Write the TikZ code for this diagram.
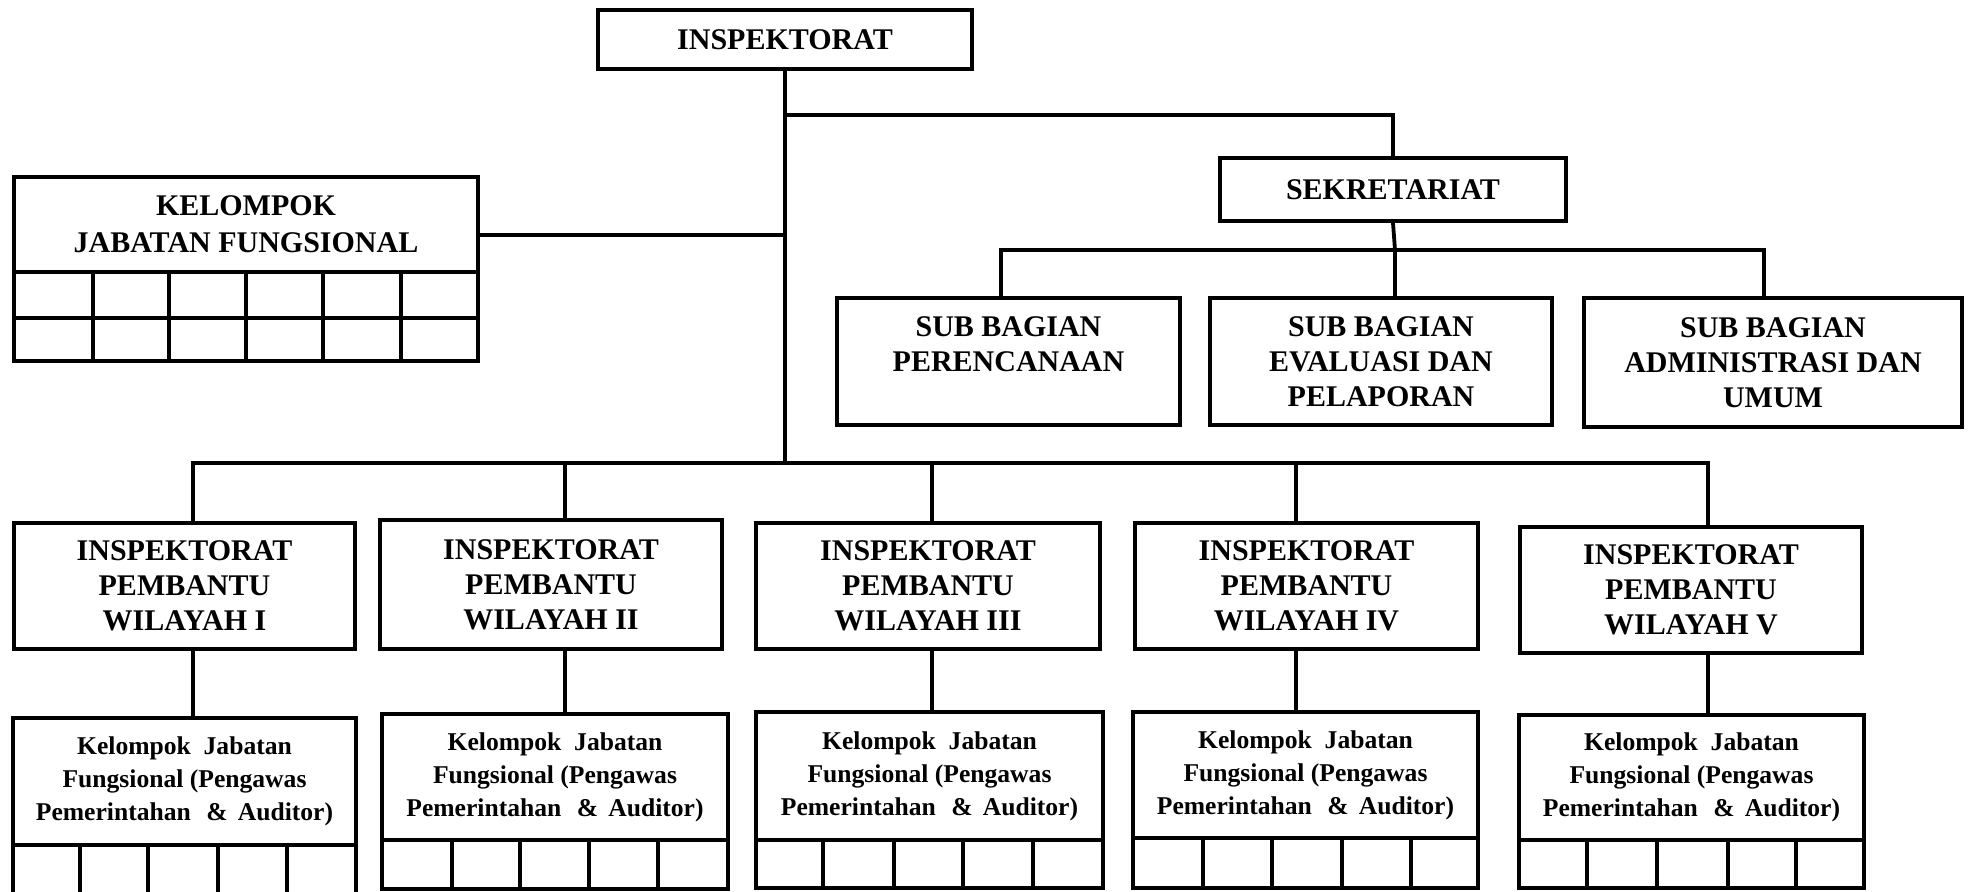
\documentclass[tikz,border=0pt]{standalone}
\usepackage{fontspec}
\setmainfont{Liberation Serif}
\tikzset{
  box/.style={draw, line width=2pt, inner sep=0pt, align=center},
  bigtxt/.style={font=\fontsize{15}{17.5}\selectfont\bfseries},
  kjftxt/.style={font=\fontsize{15}{18.5}\selectfont\bfseries},
  smalltxt/.style={font=\fontsize{12.8}{16.5}\selectfont\bfseries},
  conn/.style={line width=1.9pt},
  cell/.style={line width=2pt},
}
\newcommand{\kjtext}{Kelompok\hspace{0.5em}Jabatan\\Fungsional (Pengawas\\Pemerintahan\hspace{0.6em}\&\hspace{0.4em}Auditor)}
% \bxnode{style}{name}{x1}{y1}{x2}{y2}{text}
\newcommand{\bxnode}[7]{\node[box,#1,minimum width={(#5-#3)*0.5pt},minimum height={(#6-#4)*0.5pt}] (#2) at ({(#3+#5)/2},{(#4+#6)/2}) {#7};}
\begin{document}
\begin{tikzpicture}[x=0.5pt,y=-0.5pt]
\useasboundingbox (0,0) rectangle (1970,891);

% top
\bxnode{bigtxt}{insp}{598}{10}{972}{69}{INSPEKTORAT}
\bxnode{kjftxt}{kjf}{14}{177}{478}{272}{KELOMPOK\\JABATAN FUNGSIONAL}
\bxnode{bigtxt}{sek}{1220}{158}{1566}{221}{SEKRETARIAT}

% sub bagian
\bxnode{bigtxt}{sub1}{837}{298}{1180}{425}{SUB BAGIAN\\PERENCANAAN\\\mbox{}}
\bxnode{bigtxt}{sub2}{1210}{298}{1552}{425}{SUB BAGIAN\\EVALUASI DAN\\PELAPORAN}
\bxnode{bigtxt}{sub3}{1584}{298}{1962}{427}{SUB BAGIAN\\ADMINISTRASI DAN\\UMUM}

% wilayah
\bxnode{bigtxt}{w1}{14}{523}{355}{649}{INSPEKTORAT\\PEMBANTU\\WILAYAH I}
\bxnode{bigtxt}{w2}{380}{520}{722}{649}{INSPEKTORAT\\PEMBANTU\\WILAYAH II}
\bxnode{bigtxt}{w3}{756}{523}{1100}{649}{INSPEKTORAT\\PEMBANTU\\WILAYAH III}
\bxnode{bigtxt}{w4}{1135}{523}{1478}{649}{INSPEKTORAT\\PEMBANTU\\WILAYAH IV}
\bxnode{bigtxt}{w5}{1520}{527}{1862}{653}{INSPEKTORAT\\PEMBANTU\\WILAYAH V}

% kelompok boxes
\bxnode{smalltxt}{k1}{13}{718}{356}{845}{\kjtext}
\bxnode{smalltxt}{k2}{382}{714}{728}{840}{\kjtext}
\bxnode{smalltxt}{k3}{756}{712}{1103}{840}{\kjtext}
\bxnode{smalltxt}{k4}{1133}{712}{1478}{838}{\kjtext}
\bxnode{smalltxt}{k5}{1519}{715}{1864}{840}{\kjtext}

% KJF grid
\draw[cell] (14,272) rectangle (478,361);
\draw[cell] (14,318) -- (478,318);
\foreach \x in {92.5,169,246,323,400.5} \draw[cell] (\x,272) -- (\x,361);

% lower grids
\draw[cell] (13,845) -- (13,895);
\draw[cell] (356,845) -- (356,895);
\foreach \x in {80,148,218,287} \draw[cell] (\x,845) -- (\x,895);
\draw[cell] (382,840) rectangle (728,889);
\foreach \x in {452,520,589,658} \draw[cell] (\x,840) -- (\x,889);
\draw[cell] (756,840) rectangle (1103,888);
\foreach \x in {823,894,963,1033} \draw[cell] (\x,840) -- (\x,888);
\draw[cell] (1133,838) rectangle (1478,888);
\foreach \x in {1203,1272,1342,1411} \draw[cell] (\x,838) -- (\x,888);
\draw[cell] (1519,840) rectangle (1864,888);
\foreach \x in {1587,1657,1728,1796} \draw[cell] (\x,840) -- (\x,888);

% junction coordinates
\coordinate (jS) at (785,115);
\coordinate (jK) at (785,235);
\coordinate (sb) at (1395,250);
\coordinate (s1) at (1001,250);
\coordinate (s3) at (1764,250);
\coordinate (wb1) at (193,463);
\coordinate (wb2) at (565,463);
\coordinate (wb3) at (932,463);
\coordinate (wb4) at (1296,463);
\coordinate (wb5) at (1708,463);

% connectors
\draw[conn] (insp.south) -- (insp.south |- wb1);
\draw[conn] (jS) -| (sek.north);
\draw[conn] (jK) -- (jK -| kjf.east);
\draw[conn] (sek.south) -- (sb);
\draw[conn] (s1 |- sub1.north) |- (s3) -- (s3 |- sub3.north);
\draw[conn] (sb) -- (sb |- sub2.north);
\draw[conn] (wb1 |- w1.north) |- (wb5) -- (wb5 |- w5.north);
\foreach \i in {2,3,4} \draw[conn] (wb\i) -- (wb\i |- w\i.north);
\foreach \i in {1,...,5} \draw[conn] (wb\i |- w\i.south) -- (wb\i |- k\i.north);
\end{tikzpicture}
\end{document}
